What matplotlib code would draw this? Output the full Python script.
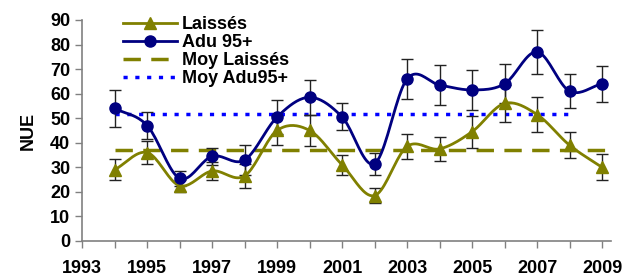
import numpy as np
import matplotlib
matplotlib.use("Agg")
import matplotlib.pyplot as plt

plt.rcParams['font.family'] = ['Liberation Sans', 'DejaVu Sans']
plt.rcParams['font.weight'] = 'bold'

years = [1994, 1995, 1996, 1997, 1998, 1999, 2000, 2001,
         2002, 2003, 2004, 2005, 2006, 2007, 2008, 2009]
laisses = [29, 36, 22.5, 28.5, 26.5, 45, 45, 31,
           18.5, 38.5, 37.5, 44.5, 56, 51.5, 39, 30]
laisses_err = [4.3, 4.8, 2.5, 3.5, 5, 6, 6.5, 4,
               3, 5, 5, 6.5, 7.5, 7, 5.3, 5.3]
adu = [54, 47, 25.5, 34.5, 33, 50.5, 58.5, 50.5,
       31.5, 66, 63.5, 61.5, 64, 77, 61, 64]
adu_err = [7.5, 5.5, 3, 3.5, 6, 7, 7, 5.5,
           4.5, 8, 8, 8, 8, 9, 6.8, 7.4]
moy_laisses = 37
moy_adu = 51.7
moy_laisses_span = [1994, 2009.1]
moy_adu_span = [1994, 2008]


def smooth(x, y, n=20):
    # Catmull-Rom, close to Excel's smoothed line
    x = np.asarray(x, float)
    y = np.asarray(y, float)
    px = np.concatenate(([2 * x[0] - x[1]], x, [2 * x[-1] - x[-2]]))
    py = np.concatenate(([2 * y[0] - y[1]], y, [2 * y[-1] - y[-2]]))
    xs, ys = [], []
    t = np.linspace(0, 1, n, endpoint=False)
    for i in range(1, len(px) - 2):
        for p, out in ((px, xs), (py, ys)):
            p0, p1, p2, p3 = p[i - 1], p[i], p[i + 1], p[i + 2]
            out.extend(0.5 * (2 * p1 + (-p0 + p2) * t
                              + (2 * p0 - 5 * p1 + 4 * p2 - p3) * t ** 2
                              + (-p0 + 3 * p1 - 3 * p2 + p3) * t ** 3))
    xs.append(x[-1])
    ys.append(y[-1])
    return np.array(xs), np.array(ys)


olive = '#808000'
navy = '#000080'

fig = plt.figure(figsize=(6.32, 2.77), dpi=100)
ax = fig.add_axes([0.130, 0.130, 0.837, 0.798])

ax.errorbar(years, laisses, yerr=laisses_err, fmt='none', ecolor='#222222',
            elinewidth=1, capsize=4, capthick=1, zorder=2)
ax.errorbar(years, adu, yerr=adu_err, fmt='none', ecolor='#222222',
            elinewidth=1, capsize=4, capthick=1, zorder=2)

sx, sy = smooth(years, laisses)
ax.plot(sx, sy, color=olive, lw=2, zorder=3)
ax.plot(years, laisses, '^', color=olive, ms=8, zorder=4)
sx, sy = smooth(years, adu)
ax.plot(sx, sy, color=navy, lw=2, zorder=3)
ax.plot(years, adu, 'o', color=navy, ms=8, zorder=4)

ax.plot(moy_laisses_span, [moy_laisses] * 2, color=olive, lw=2.5,
        dashes=(5, 3), zorder=1)
ax.plot(moy_adu_span, [moy_adu] * 2, color='#0000FF', lw=2.5,
        dashes=(1.2, 2.2), zorder=1)

# legend proxies
h1, = ax.plot([], [], color=olive, lw=2, marker='^', ms=8)
h2, = ax.plot([], [], color=navy, lw=2, marker='o', ms=8)
h3, = ax.plot([], [], color=olive, lw=2.5, dashes=(5, 3))
h4, = ax.plot([], [], color='#0000FF', lw=2.5, dashes=(1.2, 2.2))
ax.legend([h1, h2, h3, h4], ['Laissés', 'Adu 95+', 'Moy Laissés', 'Moy Adu95+'],
          loc='upper left', bbox_to_anchor=(0.047, 1.09), frameon=False,
          handlelength=3.0, handletextpad=0.25, labelspacing=0.05,
          prop={'size': 13, 'weight': 'bold'})

ax.set_xlim(1993, 2009.28)
ax.set_ylim(0, 90)
ax.set_yticks(range(0, 91, 10))
ax.set_xticks(range(1993, 2010, 2))
ax.set_xticks(range(1993, 2010), minor=True)
ax.tick_params(axis='both', labelsize=13, direction='out', color='#808080',
               length=5, width=1)
ax.tick_params(axis='x', which='minor', direction='out', color='#808080',
               length=5, width=1)
ax.tick_params(axis='x', pad=9)
for lab in ax.get_xticklabels() + ax.get_yticklabels():
    lab.set_fontweight('bold')
ax.set_ylabel('NUE', fontsize=13, fontweight='bold', labelpad=10)
for s in ['top', 'right']:
    ax.spines[s].set_visible(False)
for s in ['left', 'bottom']:
    ax.spines[s].set_color('#808080')
    ax.spines[s].set_linewidth(1.2)

fig.savefig('out.png', dpi=100)
